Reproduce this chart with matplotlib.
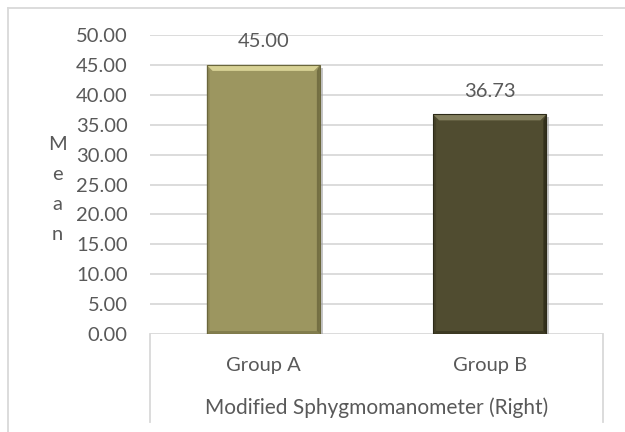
import numpy as np
import matplotlib.pyplot as plt
from matplotlib.patches import Polygon
from matplotlib.lines import Line2D
import matplotlib.patheffects as pe

groups = ["Group A", "Group B"]
means = [45.00, 36.73]
value_labels = ["45.00", "36.73"]
yticks = np.arange(0, 55, 5)

face = ["#9C9660", "#504C30"]
light = ["#E2DC9E", "#8C8866"]
dark = ["#6A663C", "#2C2A18"]

plt.rcParams["font.family"] = ["Lato", "DejaVu Sans"]
grey = "#595959"
line_grey = "#D9D9D9"
fs = 14.5

fig = plt.figure(figsize=(6.25, 4.32), dpi=100)
ax = fig.add_axes([150 / 625, 1 - 334 / 432, 453 / 625, 299 / 432])

x = np.arange(len(groups))
width = 0.5
bars = ax.bar(x, means, width=width, color=face, zorder=3,
              path_effects=[pe.SimplePatchShadow(offset=(2, -2), shadow_rgbFace="#A0A0A0", alpha=0.6),
                            pe.Normal()])

# bevel: light top edge, darker sides and bottom
bx = 6 * width / 113
by = 6 * 50 / 299
for i, b in enumerate(bars):
    x0, x1 = b.get_x(), b.get_x() + b.get_width()
    y0, y1 = 0, b.get_height()
    ax.add_patch(Polygon([[x0, y1], [x1, y1], [x1 - bx, y1 - by], [x0 + bx, y1 - by]],
                         closed=True, color=light[i], alpha=0.85, lw=0, zorder=4))
    ax.add_patch(Polygon([[x1, y1], [x1, y0], [x1 - bx * 0.5, y0 + by * 0.5], [x1 - bx * 0.5, y1 - by]],
                         closed=True, color=dark[i], alpha=0.8, lw=0, zorder=4))
    ax.add_patch(Polygon([[x0, y0], [x1, y0], [x1 - bx * 0.5, y0 + by * 0.5], [x0 + bx * 0.5, y0 + by * 0.5]],
                         closed=True, color=dark[i], alpha=0.5, lw=0, zorder=4))
    ax.add_patch(Polygon([[x0, y1], [x0, y0], [x0 + bx * 0.5, y0 + by * 0.5], [x0 + bx * 0.5, y1 - by]],
                         closed=True, color=dark[i], alpha=0.3, lw=0, zorder=4))
    ax.add_patch(Polygon([[x0, y0], [x1, y0], [x1, y1], [x0, y1]], closed=True,
                         fill=False, ec=dark[i], lw=0.8, zorder=5))
    ax.annotate(value_labels[i], (x[i], means[i]), xytext=(0, 16.5), textcoords="offset points",
                ha="center", va="center", fontsize=fs, color=grey, zorder=6)

ax.set_xlim(-0.5, 1.5)
ax.set_ylim(0, 50)
ax.set_yticks(yticks)
ax.set_yticklabels([f"{v:.2f}" for v in yticks], fontsize=fs, color=grey)
ax.tick_params(axis="y", length=0, pad=16)
ax.set_xticks([])
ax.yaxis.grid(True, color=line_grey, lw=1.3, zorder=0)
for s in ax.spines.values():
    s.set_visible(False)

# category axis box below the plot area
drop = (422 - 334) / 299
for xx in (0, 1):
    ax.add_line(Line2D([xx, xx], [0, -drop], transform=ax.transAxes, color=line_grey,
                       lw=1.3, clip_on=False))
for i, g in enumerate(groups):
    ax.text(x[i], -(365 - 334) / 299 * 50, g, ha="center", va="center",
            fontsize=fs, color=grey, clip_on=False)
ax.text(0.5, -(408 - 334) / 299, "Modified Sphygmomanometer (Right)", transform=ax.transAxes,
        ha="center", va="center", fontsize=fs + 0.5, color=grey)

# stacked y-axis title
for k, ch in enumerate("Mean"):
    fig.text(57 / 625, 1 - (145 + 30 * k) / 432, ch, ha="center", va="center",
             fontsize=fs, color=grey)

# chart area border
fig.add_artist(Line2D([8 / 625, 8 / 625], [0, 1 - 8 / 432], transform=fig.transFigure,
                      color=line_grey, lw=1.3))
fig.add_artist(Line2D([8 / 625, 1], [1 - 8 / 432, 1 - 8 / 432], transform=fig.transFigure,
                      color=line_grey, lw=1.3))

fig.savefig("out.png", dpi=100)
